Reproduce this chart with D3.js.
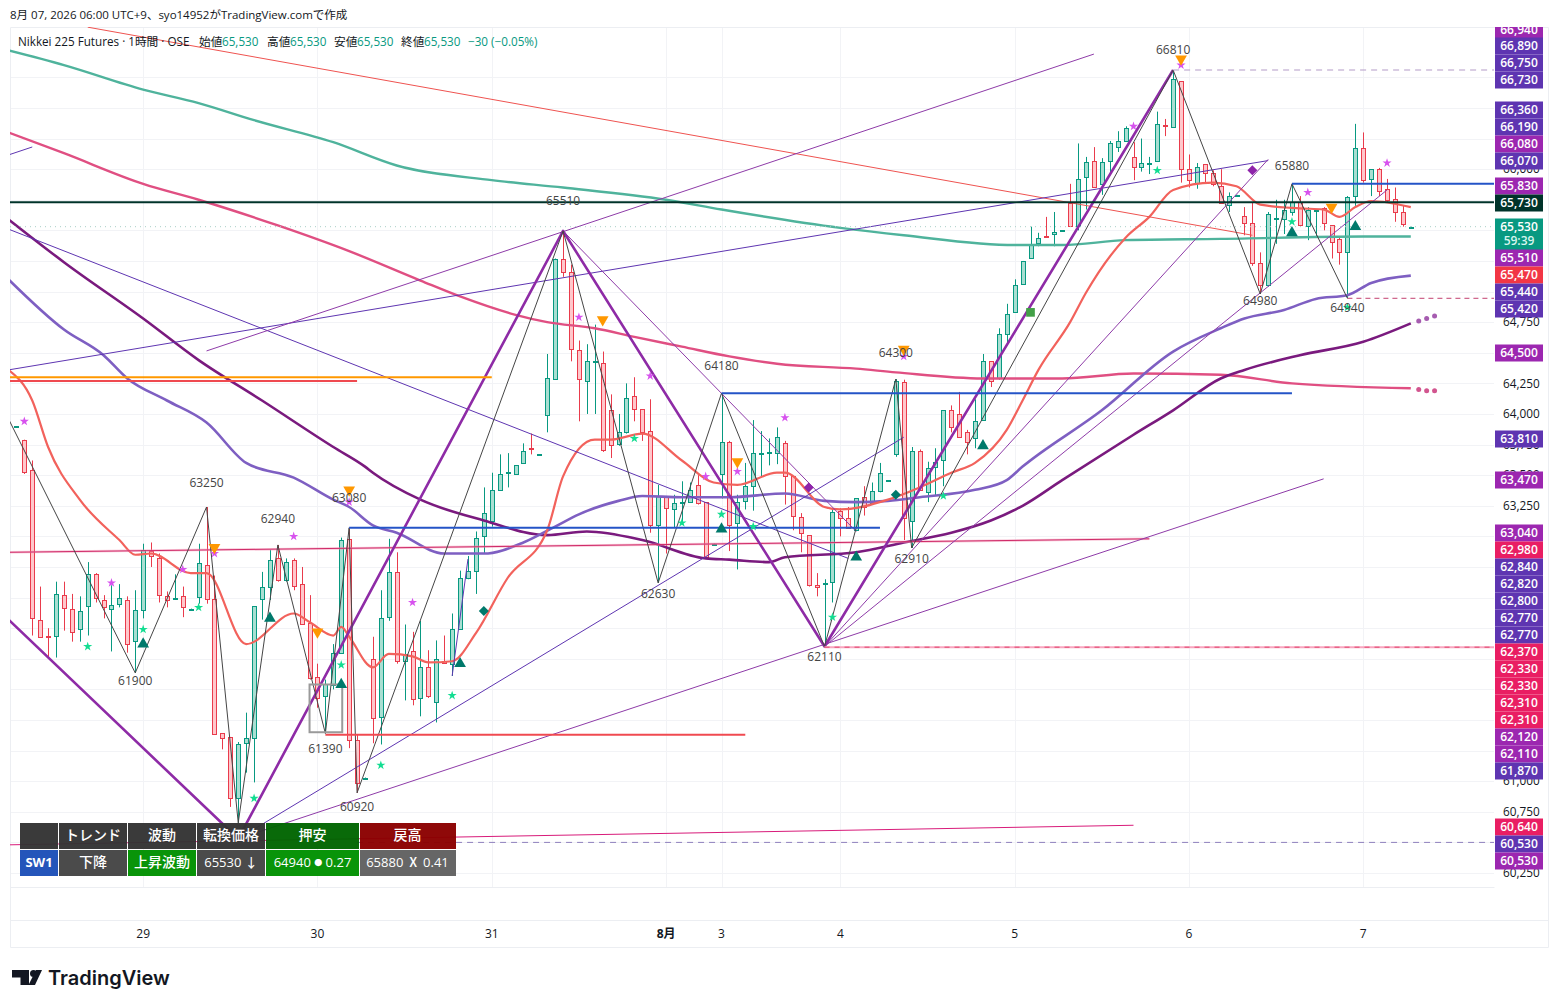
<!DOCTYPE html>
<html>
<head>
<meta charset="utf-8">
<script src="https://cdn.jsdelivr.net/npm/d3@7"></script>
<style>
  html, body { margin: 0; padding: 0; background: #fff; }
  svg { display: block; }
  text { font-family: "Open Sans", "Noto Sans CJK JP", sans-serif; }
</style>
</head>
<body>
<div id="chart"></div>
<script>
// hourly candles, bar 0 is the first one on the left
var opens = [
63890,63790,63540,62320,62190,62190,62520,62410,62240,62430,
62690,62480,62410,62450,62480,62150,62400,62880,62820,62510,
62490,62510,62400,62500,62770,62490,61390,61360,60860,61310,
61350,62490,62590,62820,62640,62810,62610,62290,61850,61690,
61790,62050,62980,61340,61020,62000,61520,62340,62710,61980,
62060,61680,61930,61650,61980,61950,62240,62660,62720,63000,
63130,63380,63520,63510,63600,63720,63660,63990,64290,65270,
65160,64520,64270,64420,64420,64030,63750,63850,64150,64040,
63860,63090,63330,63220,63270,63280,63420,63280,62930,63510,
63770,63110,63290,63410,63670,63680,63680,63760,63490,63160,
63010,62600,62610,62630,63210,63150,63050,63320,63270,63370,
63450,63670,64260,63130,63700,63360,63570,63620,64030,64000,
63850,63800,63950,64430,64290,64660,64830,65060,65270,65400,
65450,65470,65490,65720,65540,65940,66070,65880,66060,66180,
66230,66100,66020,66040,66070,66360,66350,66720,66000,65890,
66040,65970,65860,65710,65780,65620,65560,65230,65050,65590,
65600,65650,65730,65540,65660,65680,65540,65430,65320,65780,
66170,65920,66000,65840,65760,65650,65520];
var highs = [
63900,63790,63620,62590,62250,62630,62630,62530,62510,62790,
62700,62520,62600,62610,62510,62560,62940,62950,62860,62550,
62690,62590,62410,62940,63240,62680,61390,61360,61320,61560,
62430,62710,62890,62930,62820,62820,62750,62520,61960,61830,
62120,62990,63070,61380,61030,62180,62560,62980,62870,62280,
62220,62310,62070,62150,62190,62370,62720,62840,63040,63400,
63520,63670,63680,63580,63760,63840,63670,64490,65270,65495,
65220,64600,64570,64730,64510,64160,64000,64250,64300,64040,
64120,63420,63330,63340,63450,63440,63500,63280,62940,64170,
63780,63340,63600,63950,63860,63800,63890,63780,63490,63190,
63010,62700,62650,63230,63230,63240,63310,63410,63440,63600,
63460,64285,64280,63730,63710,63610,63720,64030,64070,64180,
63870,64120,64490,64430,64700,64900,65100,65250,65530,65480,
65610,65650,65500,65880,66210,66100,66180,66090,66230,66310,
66350,66220,66250,66100,66470,66410,66810,66720,66120,66050,
66040,65990,66000,65810,65790,65690,65730,65320,65650,65750,
65750,65880,65780,65690,65670,65690,65540,65450,65780,66370,
66300,66000,66010,65920,65850,65700,65530];
var lows = [
63890,63510,62190,62180,62010,62010,62230,62140,62140,62190,
62460,62330,62060,62420,62050,61885,62330,62750,62460,62420,
62490,62340,62400,62450,62450,61380,61260,60790,60660,61070,
60990,62320,62480,62630,62630,62560,62280,61830,61600,61390,
61750,62040,61270,60905,61020,61310,61300,62310,61960,61660,
61620,61530,61680,61480,61960,61860,62240,62650,62530,62860,
63080,63380,63400,63510,63600,63670,63660,63850,64280,65120,
64430,63940,64000,64000,63690,63640,63740,63840,63940,63780,
63030,62620,62860,63070,63110,63280,63260,62820,62930,63310,
62880,62730,63220,63210,63490,63580,63590,63260,63050,62870,
62590,62510,62100,62460,63000,63070,63050,63170,63260,63360,
63450,63650,62970,62905,63380,63280,63330,63410,63850,63810,
63670,63720,63950,64220,64280,64580,64830,65060,65270,65370,
65440,65370,65490,65530,65500,65670,65850,65790,65970,66140,
66230,65910,65980,65960,66070,66270,66350,65890,65850,65840,
65890,65860,65720,65650,65780,65460,65210,64980,65040,65390,
65470,65620,65540,65420,65450,65500,65270,65220,64945,65700,
65890,65780,65780,65730,65570,65530,65520];
var closes = [
63900,63530,62330,62180,62180,62530,62410,62220,62390,62690,
62490,62420,62440,62500,62120,62400,62890,62840,62520,62480,
62500,62420,62410,62780,62490,61390,61350,60860,61300,61350,
62430,62590,62810,62640,62790,62600,62280,61840,61680,61790,
62050,62970,61340,60990,61030,61520,62330,62710,61980,62040,
61670,61930,61690,62000,61960,62240,62660,62720,62990,63190,
63380,63510,63530,63580,63700,63710,63670,64290,65270,65160,
64530,64280,64430,64430,63710,63740,63850,64130,64040,63850,
63090,63330,63230,63270,63280,63380,63270,62830,62940,63770,
63090,63280,63410,63680,63680,63690,63810,63490,63160,63030,
62600,62580,62620,63200,63150,63070,63310,63240,63370,63520,
63460,64270,63150,63700,63380,63560,63610,64030,63890,63810,
63770,63940,64430,64270,64650,64820,65050,65250,65380,65440,
65440,65490,65500,65530,65920,66060,65860,66060,66210,66230,
66340,66020,66050,66050,66370,66350,66740,66000,65910,66020,
65970,65880,65720,65780,65790,65560,65230,65050,65630,65600,
65670,65730,65540,65670,65670,65560,65400,65320,65770,66170,
65910,66000,65820,65750,65650,65550,65530];

// moving averages, [bar, price]
var maTeal = [[-1,66970],[6,66850],[16,66650],[23,66540],[30,66400],[40,66220],[48,66030],[60,65910],[69,65850],[82,65750],[89,65670],[104,65520],[112,65460],[126,65380],[132,65380],[140,65420],[152,65430],[170,65450],[176,65450]];
var maPink = [[-1,66300],[6,66130],[16,65880],[23,65750],[33,65540],[42,65330],[51,65090],[56,64960],[63,64810],[67,64750],[73,64700],[78,64630],[84,64550],[90,64470],[96,64410],[106,64370],[111,64340],[122,64290],[132,64290],[141,64330],[152,64320],[161,64250],[176,64210]];
var maDark = [[-1,65590],[6,65240],[16,64780],[23,64440],[31,64110],[40,63730],[44,63570],[45,63520],[51,63300],[59,63130],[67,63010],[72,63040],[79,62970],[87,62820],[90,62810],[95,62790],[97,62830],[106,62870],[112,62950],[118,63030],[123,63130],[127,63250],[132,63460],[141,63830],[146,64030],[152,64290],[155,64360],[162,64480],[170,64590],[176,64740]];
var maViolet = [[-1,65100],[6,64690],[11,64480],[14,64290],[19,64110],[24,63930],[29,63600],[35,63480],[40,63300],[42,63240],[45,63090],[48,63030],[54,62860],[59,62860],[64,62950],[68,63080],[71,63180],[76,63290],[79,63330],[84,63320],[90,63320],[97,63350],[102,63290],[106,63280],[110,63290],[114,63320],[121,63380],[125,63460],[127,63570],[137,64030],[146,64510],[152,64700],[155,64780],[160,64850],[164,64940],[168,64970],[171,65070],[176,65130]];
var maSalmon = [[-1,64360],[2,64110],[4,63730],[8,63300],[13,62970],[15,62850],[17,62860],[22,62700],[24,62700],[29,62120],[35,62370],[37,62300],[40,62190],[41,62260],[42,62180],[45,61930],[47,62040],[50,62020],[52,61970],[55,61980],[58,62210],[62,62660],[67,63050],[69,63490],[73,63790],[75,63790],[79,63840],[84,63620],[88,63440],[91,63420],[96,63520],[97,63520],[102,63240],[104,63220],[110,63300],[114,63400],[118,63520],[121,63600],[125,63870],[127,64110],[129,64360],[133,64750],[135,64990],[140,65440],[143,65610],[146,65830],[151,65890],[154,65860],[157,65710],[162,65680],[165,65670],[167,65610],[169,65690],[171,65740],[176,65690]];
var dotsPink = [[177,64200],[178,64190],[179,64190]];
var dotsDark = [[177,64760],[178,64780],[179,64800]];

// swing pivots
var zigzagThin = [[-1,63960],[15,61885],[24,63240],[28,60660],[33,62930],[39,61390],[42,63070],[43,60905],[69,65495],[81,62620],[89,64170],[102,62100],[111,64285],[113,62905],[146,66810],[157,64980],[161,65880],[168,64945]];
var zigzagThick = [[-1,62320],[28,60530],[69,65495],[102,62100],[146,66810]];
var pivotBars = [15,24,33,39,42,43,69,81,89,102,111,113,146,157,161,168];
var pivotPrices = [61900,63250,62940,61390,63080,60920,65510,62630,64180,62110,64300,62910,66810,64980,65880,64940];

// trend lines, [bar, price] at both ends
var linePurpleUpper = [[24,64515],[136,66940]];
var lineIndigoLong = [[-1,64360],[158,66070]];
var lineIndigoStub = [[-1,66116],[2,66181]];
var lineRedLong = [[9,67160],[156,65460]];
var lineIndigoDown = [[-1,65510],[105,62820]];
var linePurpleDown = [[69,65495],[106,63040]];
var lineIndigoUp = [[28,60530],[112,63810]];
var linePurpleLower = [[28,60530],[165,63470]];
var lineFanA = [[102,62100],[158,66080]];
var lineFanB = [[102,62100],[173,65830]];
var lineIndigoShort = [[55,61860],[57,62815]];
var linePinkMid = [[-1,62870],[143,62980]];
var linePinkLow = [[-1,60480],[141,60640]];

// horizontal levels: price, from bar, to bar (null = up to the axis)
var levelDark = [65730, -1, null];
var levelBlue1 = [65880, 161, null];
var levelBlue2 = [64170, 89, 161];
var levelBlue3 = [63070, 42, 109];
var levelOrange = [64300, -1, 60];
var levelRedTop = [64270, -1, 43];
var levelRedLow = [61380, 39, 92];
var levelPink = [62095, 102, null];
var levelDashPink = [64945, 168, null];
var levelDashViolet = [66810, 146, null];
var levelDashIndigo = [60500, 43, null];
var lastPrice = 65530;

// signal marks
var starsViolet = [[1,63940],[12,62620],[21,62730],[25,62860],[35,63000],[42,63280],[50,62460],[71,64790],[80,64310],[87,63490],[91,63530],[97,63970],[112,64470],[141,66350],[147,66850],[163,65810],[173,66050]];
var starsGreen = [[9,62100],[16,62240],[23,62420],[30,60860],[41,61950],[46,61130],[55,61700],[78,63800],[84,63110],[89,63180],[93,63080],[103,62340],[117,63330],[144,65990],[161,65570],[168,64870]];
var triUp = [[16,62120],[32,62330],[41,61790],[56,61960],[89,63060],[106,62830],[122,63740],[161,65480],[169,65530]];
var triDown = [[25,62910],[38,62220],[42,63380],[74,64770],[91,63610],[112,64530],[147,66900],[166,65690]];
var diamondsTeal = [[59,62390],[111,63340]];
var diamondsPurple = [[100,63400],[156,65990]];
var squaresGreen = [[128,64830]];
var boxBars = [37, 41];
var boxPrices = [61790, 61400];

// axes
var priceTicks = d3.range(60250, 67000, 250);
var priceLabelTicks = [66000, 64750, 64250, 64000, 63750, 63500, 63250, 61000, 60750, 60250];
var dayBars = [16, 38, 60, 82, 89, 104, 126, 148, 170];
var dayLabels = ["29", "30", "31", "8月", "3", "4", "5", "6", "7"];

// price tags on the right
var tagLabels = ["66,940","66,890","66,750","66,730","66,360","66,190","66,080","66,070","65,830","65,730","65,530","65,510","65,470","65,440","65,420","64,500","63,810","63,470","63,040","62,980","62,840","62,820","62,800","62,770","62,770","62,370","62,330","62,330","62,310","62,310","62,120","62,110","61,870","60,640","60,530","60,530"];
var tagKinds = ["p","i","i","i","i","i","p","i","p","d","t","p","r","i","i","p","i","p","p","m","i","i","i","i","i","m","m","m","m","m","p","p","i","m","i","p"];

// table
var tableHead = ["", "トレンド", "波動", "転換価格", "押安", "戻高"];
var tableRow = ["SW1", "下降", "上昇波動", "65530 ↓", "64940 ● 0.27", "65880 Ⅹ 0.41"];

var legendTitle = "Nikkei 225 Futures · 1時間 · OSE";
var legendNames = ["始値", "高値", "安値", "終値"];
var legendValues = ["65,530", "65,530", "65,530", "65,530"];
var legendChange = "−30 (−0.05%)";

// ---- layout ----
var width = 1558, height = 1008;
var plotLeft = 10, plotRight = 1494, plotTop = 27, plotBottom = 887, axisRight = 1548, timeTop = 920, timeBottom = 947;
var tagRowY = [30,46,63,80,110,127,144,161,186,203,227,258,275,292,309,353,439,480,533,550,567,584,601,618,635,652,669,686,703,720,737,754,771,827,844,861];
var tagFill = { p: "#9c27b0", i: "#5e35b1", m: "#e91e63", r: "#f23645", d: "#00332a", t: "#089981" };
var pivotDy = [10,-23,-25,15,-29,16,-28,12,-26,11,-24,11,-20,7,-18,9];
var upColor = "#089981", upFill = "#a9dfd2", downColor = "#e93b4c", downFill = "#ffc7cb";

var x = d3.scaleLinear().domain([0, 176]).range([16.4, 1410.8]);
var y = d3.scaleLinear().domain([60250, 66810]).range([873, 70]);

var svg = d3.select("#chart").append("svg").attr("width", width).attr("height", height);

svg.append("defs").append("clipPath").attr("id", "plotClip").append("rect")
  .attr("x", plotLeft).attr("y", plotTop).attr("width", plotRight - plotLeft).attr("height", plotBottom - plotTop);

// frame and grid
var grid = svg.append("g");
grid.selectAll("line.h").data(priceTicks.filter(function(d) { return y(d) > plotTop; })).enter().append("line")
  .attr("x1", plotLeft).attr("x2", plotRight)
  .attr("y1", function(d) { return Math.round(y(d)) + 0.5; }).attr("y2", function(d) { return Math.round(y(d)) + 0.5; })
  .attr("stroke", "#f2f3f6");
grid.selectAll("line.v").data(dayBars).enter().append("line")
  .attr("x1", function(d) { return Math.round(x(d)) + 0.5; }).attr("x2", function(d) { return Math.round(x(d)) + 0.5; })
  .attr("y1", plotTop).attr("y2", plotBottom)
  .attr("stroke", "#f2f3f6");
var frame = [[plotLeft, plotTop, axisRight, plotTop], [plotLeft, plotBottom, plotRight, plotBottom], [plotLeft, timeTop, axisRight, timeTop], [plotLeft, timeBottom, axisRight, timeBottom], [plotLeft, plotTop, plotLeft, timeBottom], [axisRight, plotTop, axisRight, timeBottom]];
grid.selectAll("line.f").data(frame).enter().append("line")
  .attr("x1", function(d) { return d[0] + 0.5; }).attr("y1", function(d) { return d[1] + 0.5; })
  .attr("x2", function(d) { return d[2] + 0.5; }).attr("y2", function(d) { return d[3] + 0.5; })
  .attr("stroke", "#eceef2");

var plot = svg.append("g").attr("clip-path", "url(#plotClip)");

// candles
var bars = d3.range(opens.length);
var candles = plot.append("g");
candles.selectAll("line").data(bars).enter().append("line")
  .attr("x1", function(i) { return Math.round(x(i)) + 0.5; }).attr("x2", function(i) { return Math.round(x(i)) + 0.5; })
  .attr("y1", function(i) { return y(highs[i]); }).attr("y2", function(i) { return y(lows[i]); })
  .attr("stroke", function(i) { return closes[i] >= opens[i] ? upColor : downColor; });
candles.selectAll("rect").data(bars).enter().append("rect")
  .attr("x", function(i) { return Math.round(x(i)) - 1.5; }).attr("width", 4)
  .attr("y", function(i) { return Math.round(y(Math.max(opens[i], closes[i]))) + 0.5; })
  .attr("height", function(i) { return Math.round(Math.abs(y(opens[i]) - y(closes[i]))); })
  .attr("fill", function(i) { return closes[i] >= opens[i] ? upFill : downFill; })
  .attr("stroke", function(i) { return closes[i] >= opens[i] ? upColor : downColor; });

// moving averages
var maLine = d3.line().x(function(d) { return x(d[0]); }).y(function(d) { return y(d[1]); }).curve(d3.curveMonotoneX);
function drawMa(data, color, w) {
  plot.append("path").attr("d", maLine(data)).attr("fill", "none").attr("stroke", color).attr("stroke-width", w).attr("stroke-linejoin", "round");
}
drawMa(maTeal, "#4fb39c", 2.4);
drawMa(maPink, "#e04f82", 2.4);
drawMa(maDark, "#7a1a7e", 2.6);
drawMa(maViolet, "#7e5fc2", 2.6);
drawMa(maSalmon, "#f2625c", 2.2);

function drawDots(data, color) {
  plot.selectAll(null).data(data).enter().append("circle")
    .attr("cx", function(d) { return x(d[0]); }).attr("cy", function(d) { return y(d[1]); })
    .attr("r", 2.5).attr("fill", color);
}
drawDots(dotsPink, "#d2558f");
drawDots(dotsDark, "#a65cb0");

// straight lines
var straight = d3.line().x(function(d) { return x(d[0]); }).y(function(d) { return y(d[1]); });
function drawLine(data, color, w, opacity) {
  plot.append("path").attr("d", straight(data)).attr("fill", "none").attr("stroke", color)
    .attr("stroke-width", w).attr("stroke-opacity", opacity || 1).attr("stroke-linejoin", "round");
}
drawLine(linePinkMid, "#f48fb1", 2.5, 0.5);
drawLine(linePinkMid, "#cf2a68", 1);
drawLine(linePinkLow, "#d81b7a", 1);
drawLine(lineRedLong, "#ef5350", 1);
drawLine(lineIndigoLong, "#5e35b1", 1);
drawLine(lineIndigoStub, "#5e35b1", 1);
drawLine(lineIndigoDown, "#5e35b1", 1);
drawLine(lineIndigoUp, "#5e35b1", 1);
drawLine(lineIndigoShort, "#5e35b1", 1);
drawLine(linePurpleUpper, "#8e3ba8", 1);
drawLine(linePurpleDown, "#8e3ba8", 1);
drawLine(linePurpleLower, "#8e3ba8", 1);
drawLine(lineFanA, "#8e3ba8", 1);
drawLine(lineFanB, "#8e3ba8", 1);
drawLine(zigzagThick, "#8e2ba6", 2.6);
drawLine(zigzagThin, "#454545", 1);

// horizontal levels
function drawLevel(level, color, w, dash, opacity) {
  var x2 = level[2] === null ? plotRight : x(level[2]);
  plot.append("line").attr("x1", x(level[1])).attr("x2", x2)
    .attr("y1", y(level[0])).attr("y2", y(level[0]))
    .attr("stroke", color).attr("stroke-width", w).attr("stroke-opacity", opacity || 1)
    .attr("stroke-dasharray", dash || null);
}
plot.append("line").attr("x1", plotLeft).attr("x2", plotRight).attr("y1", y(lastPrice)).attr("y2", y(lastPrice))
  .attr("stroke", "#a8cfc7").attr("stroke-dasharray", "1,4");
drawLevel(levelOrange, "#ff9800", 2);
drawLevel(levelRedTop, "#ef4a50", 2);
drawLevel(levelRedLow, "#f04a50", 2);
drawLevel(levelBlue1, "#2454c7", 2);
drawLevel(levelBlue2, "#2454c7", 2);
drawLevel(levelBlue3, "#2454c7", 2);
drawLevel(levelDark, "#00332a", 2);
drawLevel(levelPink, "#f8a6bf", 2);
drawLevel(levelPink, "#e0436e", 1, "5,5");
drawLevel(levelDashPink, "#c2406f", 1, "5,4");
drawLevel(levelDashViolet, "#b39bc7", 1, "6,5");
drawLevel(levelDashIndigo, "#8f80bd", 1, "6,5");

plot.append("rect")
  .attr("x", x(boxBars[0])).attr("width", x(boxBars[1]) - x(boxBars[0]) + 1)
  .attr("y", y(boxPrices[0])).attr("height", y(boxPrices[1]) - y(boxPrices[0]))
  .attr("fill", "none").attr("stroke", "#9a9a9a").attr("stroke-width", 2);

// signal marks
function drawMarks(data, type, size, color, rotate) {
  plot.selectAll(null).data(data).enter().append("path")
    .attr("d", d3.symbol().type(type).size(size)())
    .attr("transform", function(d) { return "translate(" + x(d[0]) + "," + y(d[1]) + ")" + (rotate ? "rotate(" + rotate + ")" : ""); })
    .attr("fill", color);
}
drawMarks(starsViolet, d3.symbolStar, 26, "#d752ee");
drawMarks(starsGreen, d3.symbolStar, 26, "#12dd91");
drawMarks(triUp, d3.symbolTriangle, 60, "#00796b");
drawMarks(triDown, d3.symbolTriangle, 60, "#ff9800", 180);
drawMarks(diamondsTeal, d3.symbolSquare, 50, "#00796b", 45);
drawMarks(diamondsPurple, d3.symbolSquare, 50, "#8e24aa", 45);
drawMarks(squaresGreen, d3.symbolSquare, 75, "#43a047");

// pivot labels
svg.append("g").selectAll("text").data(pivotBars).enter().append("text")
  .attr("x", function(d) { return x(d); })
  .attr("y", function(d, i) { return y(pivotPrices[i]) + pivotDy[i]; })
  .attr("dy", "0.35em").attr("text-anchor", "middle")
  .attr("font-size", 12).attr("fill", "#444")
  .text(function(d, i) { return pivotPrices[i]; });

// right axis
var yAxis = d3.axisRight(y).tickValues(priceLabelTicks)
  .tickSize(0).tickPadding(9).tickFormat(d3.format(","));
var yg = svg.append("g").attr("transform", "translate(" + plotRight + ",0)").call(yAxis);
yg.select(".domain").remove();
yg.selectAll("text").attr("font-size", 11.8).attr("fill", "#131722").style("font-family", '"Open Sans", sans-serif');

// time axis
var xAxis = d3.axisBottom(x).tickValues(dayBars).tickSize(0).tickPadding(8)
  .tickFormat(function(d, i) { return dayLabels[i]; });
var xg = svg.append("g").attr("transform", "translate(-0.5," + (timeTop + 1) + ")").call(xAxis);
xg.select(".domain").remove();
xg.selectAll("text").attr("font-size", 12).attr("fill", "#131722")
  .attr("font-weight", function(d, i) { return dayLabels[i] === "8月" ? 700 : 400; })
  .style("font-family", '"Open Sans", "Noto Sans CJK JP", sans-serif');

// price tags
var tagG = svg.append("g");
svg.append("defs").append("clipPath").attr("id", "tagClip").append("rect")
  .attr("x", plotRight).attr("y", plotTop).attr("width", 60).attr("height", 900);
tagG.attr("clip-path", "url(#tagClip)");
tagG.append("rect").attr("x", 1495).attr("y", tagRowY[10] - 8).attr("width", 48).attr("height", 31).attr("fill", tagFill.t);
tagG.selectAll("rect.tag").data(tagLabels).enter().append("rect").attr("class", "tag")
  .attr("x", 1495).attr("width", 48)
  .attr("y", function(d, i) { return tagRowY[i] - 8.5; }).attr("height", 17)
  .attr("fill", function(d, i) { return tagFill[tagKinds[i]]; });
tagG.selectAll("text.tag").data(tagLabels).enter().append("text").attr("class", "tag")
  .attr("x", 1519).attr("y", function(d, i) { return tagRowY[i]; })
  .attr("dy", "0.36em").attr("text-anchor", "middle")
  .attr("font-size", 12).attr("font-weight", 600).attr("fill", "#fff")
  .text(function(d) { return d; });
tagG.append("text").attr("x", 1519).attr("y", 241).attr("dy", "0.36em").attr("text-anchor", "middle")
  .attr("font-size", 12).attr("font-weight", 600).attr("fill", "#d8f5ee").text("59:39");

// table
var colX = [20, 59, 128, 197, 266, 360, 456];
var headFill = ["#333", "#333", "#333", "#333", "#006400", "#8b0000"];
var rowFill = ["#1c4fb8", "#444", "#009000", "#444", "#009000", "#606060"];
var table = svg.append("g").style("opacity", 0.96);
function drawRow(labels, fills, top, h, size) {
  labels.forEach(function(label, i) {
    table.append("rect").attr("x", colX[i]).attr("y", top).attr("width", colX[i + 1] - colX[i] - (i < 5 ? 1 : 0)).attr("height", h).attr("fill", fills[i]);
    var t = table.append("text").attr("x", (colX[i] + colX[i + 1] - 1) / 2).attr("y", top + h / 2 - 1).attr("dy", "0.36em")
      .attr("text-anchor", "middle").attr("font-size", i === 0 ? 13 : (/\d/.test(label) ? 13 : size)).attr("font-weight", i === 0 ? 700 : 500)
      .attr("fill", "#fff");
    if (label.indexOf("●") >= 0) {
      var parts = label.split("●");
      t.append("tspan").text(parts[0]);
      t.append("tspan").attr("font-size", 8).attr("dy", "-0.1em").text("●");
      t.append("tspan").attr("dy", "0.1em").text(parts[1]);
    } else {
      t.text(label);
    }
  });
}
drawRow(tableHead, headFill, 823, 26, 14);
drawRow(tableRow, rowFill, 850, 26, 14);

// top texts
svg.append("text").attr("x", 10).attr("y", 19).attr("font-size", 11.5).attr("fill", "#131722")
  .text("8月 07, 2026 06:00 UTC+9、syo14952がTradingView.comで作成");
svg.append("text").attr("x", 18).attr("y", 46).attr("font-size", 11.7).attr("fill", "#131722").text(legendTitle);
var nameX = [199, 267, 334, 401];
legendNames.forEach(function(name, i) {
  svg.append("text").attr("x", nameX[i]).attr("y", 46).attr("font-size", 11.7).attr("fill", "#131722").text(name);
  svg.append("text").attr("x", nameX[i] + 23).attr("y", 46).attr("font-size", 11.7).attr("fill", "#089981").text(legendValues[i]);
});
svg.append("text").attr("x", 468).attr("y", 46).attr("font-size", 11.7).attr("fill", "#089981").text(legendChange);

// TradingView logo
var logo = svg.append("g").attr("fill", "#131722");
logo.append("path").attr("d", "M12 970H29V985H20.5V977.5H12Z");
logo.append("circle").attr("cx", 33.5).attr("cy", 973.5).attr("r", 3.5);
logo.append("path").attr("d", "M36 970H42L35 985H28.5Z");
logo.append("text").attr("x", 48).attr("y", 985).attr("font-size", 20).attr("font-weight", 600)
  .style("font-family", "Inter, sans-serif").text("TradingView");
</script>
</body>
</html>
